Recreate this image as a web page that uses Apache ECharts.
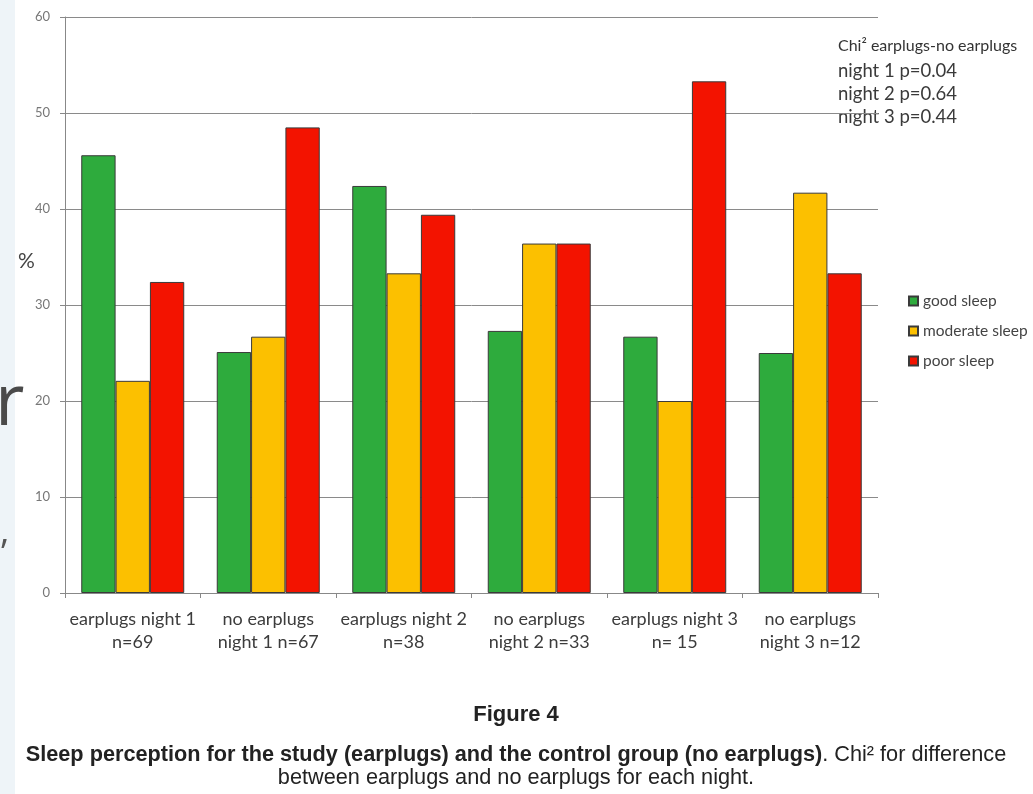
<!DOCTYPE html>
<html>
<head>
<meta charset="utf-8">
<title>Figure 4</title>
<script src="https://cdn.jsdelivr.net/npm/echarts@6/dist/echarts.min.js"></script>
<style>
	html, body { margin: 0; padding: 0; background: #fff; }
	#main { width: 1033px; height: 794px; }
</style>
</head>
<body>
<div id="main"></div>
<script>
var groups = ['earplugs night 1\nn=69', 'no earplugs\nnight 1 n=67', 'earplugs night 2\nn=38',
	'no earplugs\nnight 2 n=33', 'earplugs night 3\nn= 15', 'no earplugs\nnight 3 n=12'];
var goodSleep = [45.6, 25.1, 42.4, 27.3, 26.7, 25.0];
var moderateSleep = [22.1, 26.7, 33.3, 36.4, 20.0, 41.7];
var poorSleep = [32.4, 48.5, 39.4, 36.4, 53.3, 33.3];
var yTicks = [0, 10, 20, 30, 40, 50, 60];
var chiLines = ['night 1 p=0.04', 'night 2 p=0.64', 'night 3 p=0.44'];

var labelFont = 'Lato, "Open Sans", sans-serif';
var capFont = '"Liberation Sans", Arial, sans-serif';

var myChart = echarts.init(document.getElementById('main'));

function barSeries(name, color, data) {
	return {
		name: name,
		type: 'bar',
		barGap: '0%',
		barCategoryGap: '24%',
		itemStyle: { color: color, borderColor: '#3a3a3a', borderWidth: 1 },
		data: data
	};
}

var option = {
	backgroundColor: '#ffffff',
	animation: false,
	grid: { left: 65, right: 155, top: 17, bottom: 201 },
	legend: {
		orient: 'vertical',
		left: 903,
		top: 288,
		itemWidth: 9,
		itemHeight: 9,
		itemGap: 14,
		icon: 'rect',
		textStyle: { fontFamily: labelFont, fontSize: 15.5, color: '#444' },
		data: ['good sleep', 'moderate sleep', 'poor sleep']
	},
	xAxis: [{
		type: 'category',
		data: groups,
		axisLine: { lineStyle: { color: '#888' } },
		axisTick: { show: true, length: 5, lineStyle: { color: '#888' } },
		axisLabel: {
			interval: 0,
			margin: 15,
			fontFamily: labelFont,
			fontSize: 18,
			lineHeight: 23,
			color: '#3c3c3c'
		}
	}],
	yAxis: [{
		type: 'value',
		min: yTicks[0],
		max: yTicks[yTicks.length - 1],
		interval: 10,
		axisLine: { show: true, lineStyle: { color: '#888' } },
		axisTick: { show: true, length: 5, lineStyle: { color: '#888' } },
		axisLabel: { margin: 15, fontFamily: labelFont, fontSize: 13, color: '#777' },
		splitLine: { lineStyle: { color: '#8a8a8a', width: 1 } }
	}],
	graphic: [
		{
			type: 'rect', left: 0, top: 0, z: -1,
			shape: { width: 15, height: 794 },
			style: { fill: '#eef4f8' }
		},
		{
			type: 'text', left: -5, top: 368,
			style: { text: 'r', fontFamily: '"Open Sans", sans-serif', fontSize: 72, fill: '#4a4a4a' }
		},
		{
			type: 'text', left: 0, top: 515,
			style: { text: ',', fontFamily: '"Open Sans", sans-serif', fontSize: 36, fill: '#555' }
		},
		{
			type: 'text', left: 18, top: 251,
			style: { text: '%', fontFamily: labelFont, fontSize: 21, fill: '#444' }
		},
		{
			type: 'text', x: 838, y: 46,
			style: { text: 'Chi² earplugs-no earplugs', fontFamily: labelFont, fontSize: 16, fill: '#333', verticalAlign: 'middle' }
		},
		{
			type: 'text', x: 838, y: 60,
			style: { text: chiLines.join('\n'), fontFamily: labelFont, fontSize: 18.5, lineHeight: 23, fill: '#3a3a3a' }
		},
		{
			type: 'text', x: 516, y: 715,
			style: { text: 'Figure 4', fontFamily: capFont, fontSize: 22, fontWeight: 'bold', fill: '#222', align: 'center', verticalAlign: 'middle' }
		},
		{
			type: 'text', x: 516, y: 755,
			style: {
				text: '{b|Sleep perception for the study (earplugs) and the control group (no earplugs)}{n|. Chi² for difference}',
				align: 'center',
				verticalAlign: 'middle',
				rich: {
					b: { fontFamily: capFont, fontSize: 21.7, fontWeight: 'bold', fill: '#222' },
					n: { fontFamily: capFont, fontSize: 21.7, fill: '#222' }
				}
			}
		},
		{
			type: 'text', x: 516, y: 778,
			style: { text: 'between earplugs and no earplugs for each night.', fontFamily: capFont, fontSize: 21.7, fill: '#222', align: 'center', verticalAlign: 'middle' }
		}
	],
	series: [
		barSeries('good sleep', '#2eab3d', goodSleep),
		barSeries('moderate sleep', '#fcc000', moderateSleep),
		barSeries('poor sleep', '#f31300', poorSleep)
	]
};
myChart.setOption(option);
</script>
</body>
</html>
